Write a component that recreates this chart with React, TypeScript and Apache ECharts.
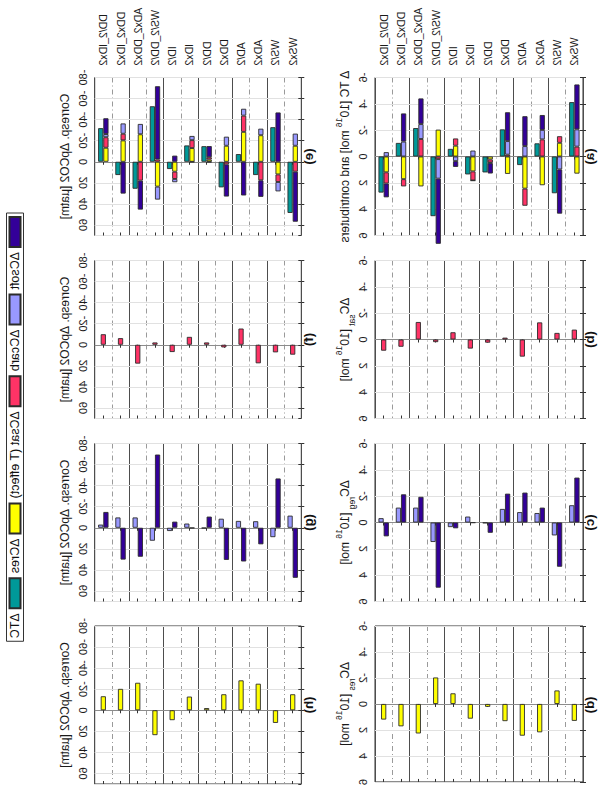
import React, { useEffect, useRef } from 'react';
import * as echarts from 'echarts';

// ---------- data ----------
const categories = ['WSx2', 'WS/2', 'ADx2', 'AD/2', 'DDx2', 'DD/2', 'IDx2', 'ID/2', 'WS/2_DD/2', 'ADx2_DDx2', 'DDx2_IDx2', 'DD/2_IDx2'];

// carbon inventory changes [10^16 mol]
const dTC = [-4.13, 2.79, -1.0, 0.65, -2.06, 1.21, 1.36, -0.58, 4.53, -2.16, -1.03, 2.74];
const dCsoft = [-3.41, 3.36, -1.13, -2.27, -2.19, 0.78, 0.02, 0.44, 4.95, -1.95, -2.14, 1.05];
const dCcarb = [-1.31, 0.98, -0.72, -0.79, -1.03, 0.05, -0.45, 0.35, 1.48, -1.13, -1.13, -0.33];
const dCsat = [-0.75, -0.5, -1.3, 1.3, -0.14, 0.24, 0.69, -0.55, 0.2, -1.33, 0.55, 0.85];
const dCres = [1.3, -1.04, 2.18, 2.44, 1.32, 0.22, 1.13, -0.82, -2.04, 2.27, 1.72, 1.2];

// corresponding pCO2 changes [uatm]
const pTC = [48.6, -32.8, 12.6, -7.3, 24.3, -14.8, -15.5, 6.9, -52.7, 25.6, 12.6, -31.9];
const pSoft = [47.5, -46.8, 15.7, 32, 30.5, -10.6, 0.3, -5.8, -69.5, 27.5, 30.2, -15];
const pCarb = [-11.5, 8.9, -6.2, -6.5, -8.6, 0.5, -4, 3.1, 12.3, -9.8, -9.8, -3.0];
const pSat = [9.4, 7.2, 17.6, -15.4, 2.5, -2.2, -7.5, 6.9, -2.2, 17.9, -6.3, -10];
const pRes = [-15.2, 12, -25.2, -28.4, -15.2, -2.1, -13, 9.4, 23.6, -26.1, -20.3, -13.3];

const tcTicks = [-6, -4, -2, 0, 2, 4, 6];
const pTicks = [-80, -60, -40, -20, 0, 20, 40, 60];
const pMax = 70;

const N_SOFT = 'ΔCsoft';
const N_CARB = 'ΔCcarb';
const N_SAT = 'ΔCsat (T effect)';
const N_RES = 'ΔCres';
const N_TC = 'ΔTC';

const FONT = '"Liberation Sans", Arial, Helvetica, sans-serif';
const COLORS: Record<string, string> = {
  [N_SOFT]: '#330099',
  [N_CARB]: '#9999ff',
  [N_SAT]: '#ff3366',
  [N_RES]: '#ffff00',
  [N_TC]: '#009999',
};

type S = { name: string; data: number[]; stack?: string };
type P = { label: string; row: number; col: number; pco2: boolean; axisName: string; series: S[] };

const panels: P[] = [
  { label: '(a)', row: 1, col: 0, pco2: false, axisName: '{n|Δ TC [10}{sup|16}{n| mol] and contributers}',
    series: [{ name: N_TC, data: dTC }, { name: N_RES, data: dCres, stack: 's' }, { name: N_SAT, data: dCsat, stack: 's' }, { name: N_CARB, data: dCcarb, stack: 's' }, { name: N_SOFT, data: dCsoft, stack: 's' }] },
  { label: '(b)', row: 1, col: 1, pco2: false, axisName: '{n|ΔC}{sub|sat}{n| [10}{sup|16}{n| mol]}', series: [{ name: N_SAT, data: dCsat }] },
  { label: '(c)', row: 1, col: 2, pco2: false, axisName: '{n|ΔC}{sub|reg}{n| [10}{sup|16}{n| mol]}', series: [{ name: N_CARB, data: dCcarb }, { name: N_SOFT, data: dCsoft }] },
  { label: '(d)', row: 1, col: 3, pco2: false, axisName: '{n|ΔC}{sub|res}{n| [10}{sup|16}{n| mol]}', series: [{ name: N_RES, data: dCres }] },
  { label: '(e)', row: 0, col: 0, pco2: true, axisName: '{n|Corresp. ΔpCO2 [µatm]}',
    series: [{ name: N_TC, data: pTC }, { name: N_RES, data: pRes, stack: 's' }, { name: N_SAT, data: pSat, stack: 's' }, { name: N_CARB, data: pCarb, stack: 's' }, { name: N_SOFT, data: pSoft, stack: 's' }] },
  { label: '(f)', row: 0, col: 1, pco2: true, axisName: '{n|Corresp. ΔpCO2 [µatm]}', series: [{ name: N_SAT, data: pSat }] },
  { label: '(g)', row: 0, col: 2, pco2: true, axisName: '{n|Corresp. ΔpCO2 [µatm]}', series: [{ name: N_CARB, data: pCarb }, { name: N_SOFT, data: pSoft }] },
  { label: '(h)', row: 0, col: 3, pco2: true, axisName: '{n|Corresp. ΔpCO2 [µatm]}', series: [{ name: N_RES, data: pRes }] },
];

// layout in the un-transposed frame (788 x 601)
const colLeft = [77.5, 260.5, 443.5, 626];
const colW = 158;
const rowTop = [94.7, 375];
const rowH = [206.6, 208];
const labelY = [308, 589];

export default function App() {
  const ref = useRef<HTMLDivElement>(null);
  useEffect(() => {
    const chart = echarts.init(ref.current!, null, { renderer: 'svg' });
    const grid: any[] = [];
    const xAxis: any[] = [];
    const yAxis: any[] = [];
    const series: any[] = [];
    const graphic: any[] = [];
    const rich = {
      n: { fontSize: 12, fontFamily: FONT, color: '#1a1a1a', lineHeight: 22 },
      sup: { fontSize: 8.5, fontFamily: FONT, color: '#1a1a1a', lineHeight: 8, verticalAlign: 'top' },
      sub: { fontSize: 8.5, fontFamily: FONT, color: '#1a1a1a', lineHeight: 8, verticalAlign: 'bottom' },
    };
    panels.forEach((p, k) => {
      const left = colLeft[p.col];
      const top = rowTop[p.row];
      const height = rowH[p.row];
      grid.push({ left, top, width: colW, height, show: true, borderColor: '#333', borderWidth: 1, backgroundColor: '#fff' });
      const ticks = p.pco2 ? pTicks : tcTicks;
      const min = ticks[0];
      const max = p.pco2 ? pMax : ticks[ticks.length - 1];
      const interval = ticks[1] - ticks[0];
      const lineVals = ticks.slice();
      if (lineVals[lineVals.length - 1] < max) lineVals.push(max);
      const splitColors = lineVals.map((v) => (v === 0 ? '#8c8c8c' : '#e1e1e1'));
      xAxis.push({
        type: 'value', gridIndex: k, position: 'top', min, max, interval,
        axisLine: { show: false },
        axisTick: { show: true, inside: true, length: 3, lineStyle: { color: '#333' } },
        axisLabel: { show: true, margin: 6.5, fontSize: 11, fontFamily: FONT, color: '#1a1a1a', showMaxLabel: !p.pco2 },
        splitLine: { show: true, lineStyle: { color: splitColors, width: 1 } },
        name: p.axisName, nameLocation: 'middle', nameGap: 19,
        nameTextStyle: { rich, fontSize: 12, fontFamily: FONT },
      });
      xAxis.push({
        type: 'value', gridIndex: k, position: 'bottom', min, max, interval,
        axisLine: { show: false },
        axisTick: { show: true, inside: true, length: 3, lineStyle: { color: '#333' } },
        axisLabel: { show: false }, splitLine: { show: false },
      });
      yAxis.push({
        type: 'category', gridIndex: k, position: 'left', data: categories,
        axisLine: { show: false },
        axisTick: { show: true, inside: true, alignWithLabel: true, length: 3, lineStyle: { color: '#333' } },
        axisLabel: { show: p.col === 0, interval: 0, margin: 12, fontSize: 10.5, fontFamily: FONT, color: '#1a1a1a' },
        splitLine: { show: false },
      });
      yAxis.push({
        type: 'value', gridIndex: k, position: 'right', min: 0, max: 12, interval: 1,
        axisLine: { show: false }, axisTick: { show: false }, axisLabel: { show: false },
        splitLine: { show: true, lineStyle: { color: ['rgba(0,0,0,0)', '#9a9a9a'], width: 1, type: [5, 3, 1, 3] } },
      });
      yAxis.push({
        type: 'value', gridIndex: k, position: 'right', min: 0, max: 12, interval: 2,
        axisLine: { show: false }, axisTick: { show: false }, axisLabel: { show: false },
        splitLine: { show: true, lineStyle: { color: '#4d4d4d', width: 1, type: 'solid' } },
      });
      yAxis.push({
        type: 'category', gridIndex: k, position: 'right', data: categories,
        axisLine: { show: false },
        axisTick: { show: true, inside: true, alignWithLabel: true, length: 3, lineStyle: { color: '#333' } },
        axisLabel: { show: false }, splitLine: { show: false },
      });
      p.series.forEach((s) => {
        series.push({
          type: 'bar', name: s.name, data: s.data,
          xAxisIndex: 2 * k, yAxisIndex: 4 * k,
          stack: s.stack ? 'stk' + k : undefined,
          barWidth: 5.2, barGap: '0%',
          clip: false,
          itemStyle: { color: COLORS[s.name], borderColor: '#2b2b2b', borderWidth: 0.9 },
          emphasis: { disabled: true },
          silent: true,
        });
      });
      graphic.push({
        type: 'text', x: left + colW / 2, y: labelY[p.row],
        style: { text: p.label, fontSize: 13.5, fontWeight: 'bold', fontFamily: FONT, fill: '#111', align: 'center', verticalAlign: 'middle', textAlign: 'center', textVerticalAlign: 'middle' },
      });
    });

    chart.setOption({
      animation: false,
      backgroundColor: '#fff',
      grid, xAxis, yAxis, series, graphic,
      legend: {
        data: [N_SOFT, N_CARB, N_SAT, N_RES, N_TC],
        selectedMode: false,
        left: 213, top: 6.5, orient: 'horizontal',
        icon: 'rect', itemWidth: 30, itemHeight: 11, itemGap: 4,
        padding: [2, 3], borderColor: '#333', borderWidth: 1, backgroundColor: '#fff',
        textStyle: { fontSize: 12.5, fontFamily: FONT, color: '#111' },
      },
    });
    return () => chart.dispose();
  }, []);

  return (
    <div style={{ position: 'fixed', left: 0, top: 0, width: 601, height: 788, overflow: 'hidden', background: '#fff' }}>
      <div
        ref={ref}
        style={{ width: 788, height: 601, transformOrigin: '0 0', transform: 'matrix(0, 1, 1, 0, 0, 0)' }}
      />
    </div>
  );
}
